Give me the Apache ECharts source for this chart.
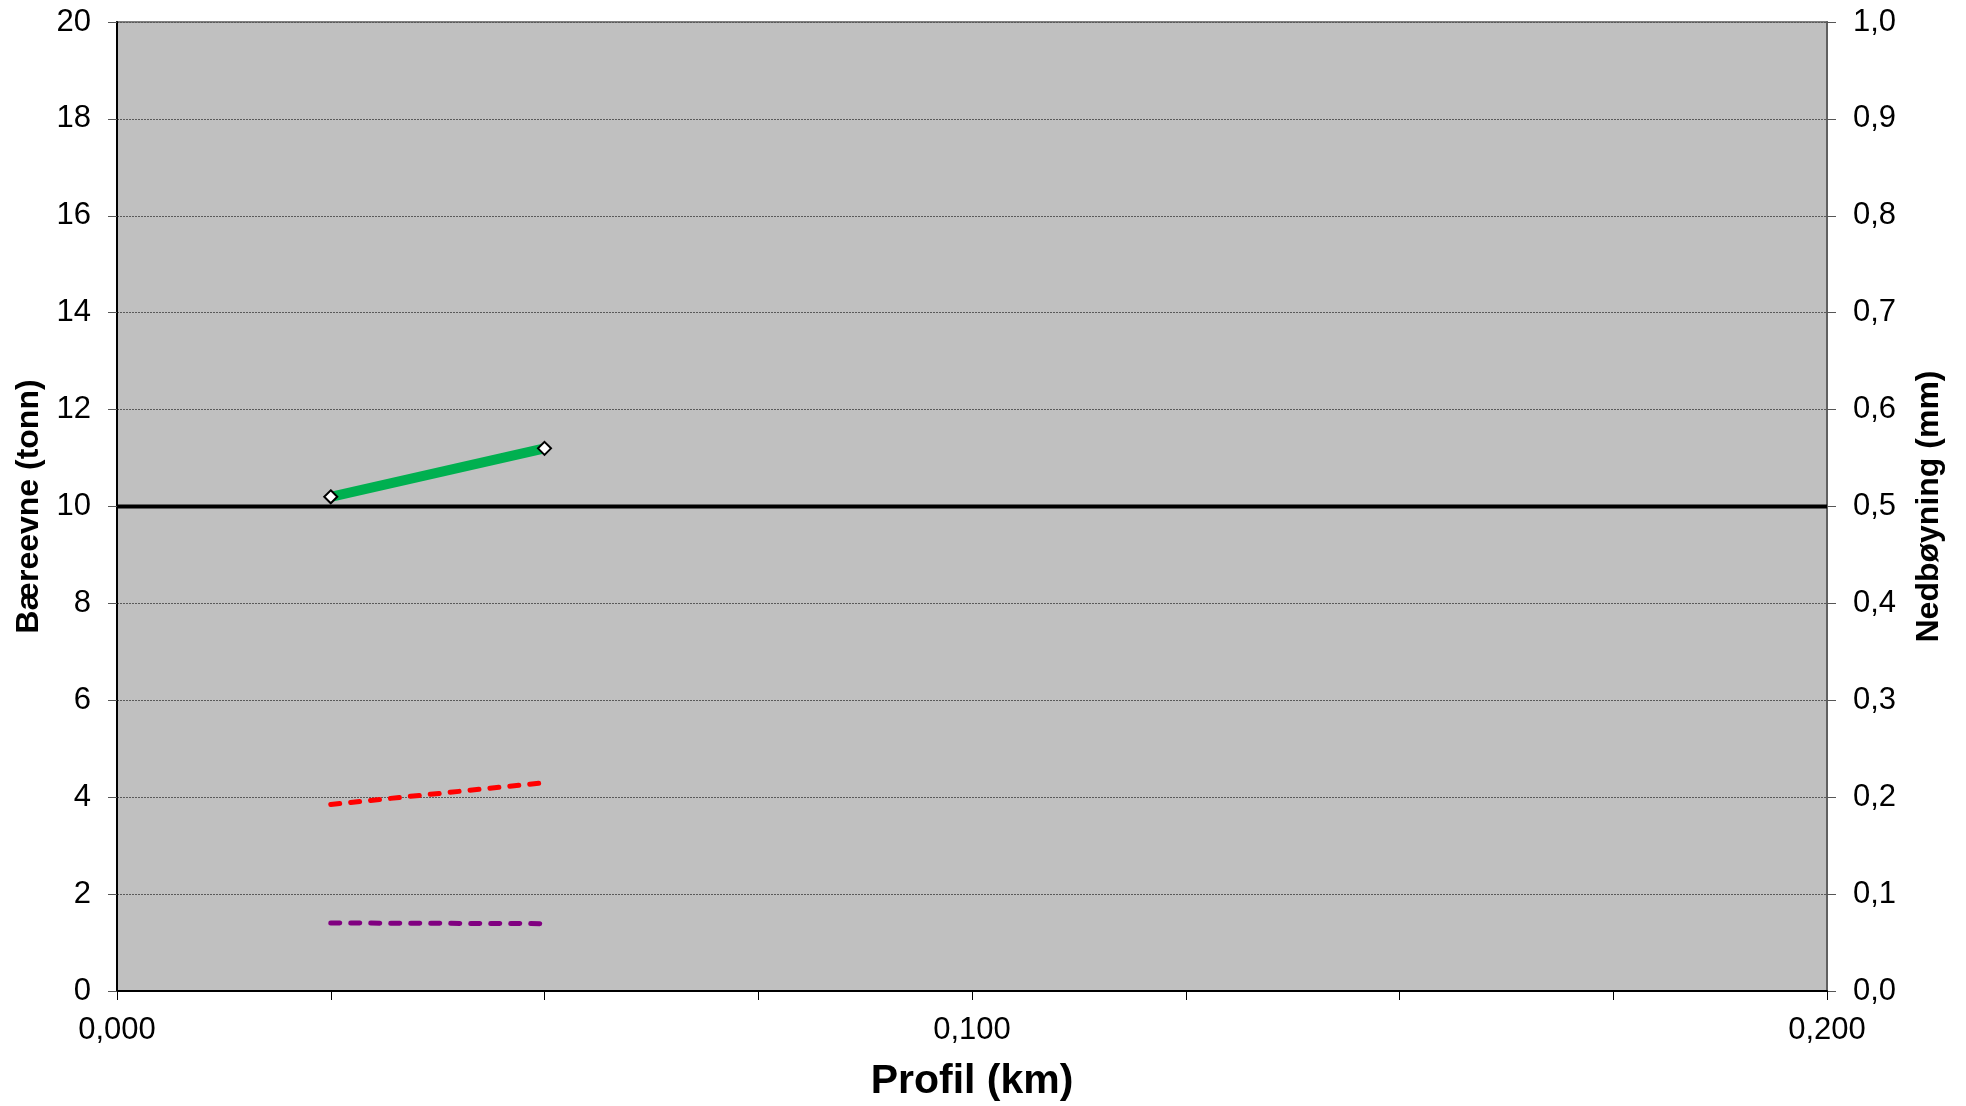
<!DOCTYPE html>
<html>
<head>
<meta charset="utf-8">
<script src="https://cdn.jsdelivr.net/npm/echarts@6/dist/echarts.min.js"></script>
<style>
html,body{margin:0;padding:0;background:#fff;}
#chart{width:1966px;height:1106px;}
</style>
</head>
<body>
<div id="chart"></div>
<script>
// Data
const profilKm = [0.025, 0.05];
const baereevneTonn = [10.2, 11.2];          // green, left axis
const nedboyningRed = [0.1925, 0.215];       // red dashed, right axis (mm)
const nedboyningPurple = [0.0702, 0.0695];   // purple dashed, right axis (mm)
const limitKm = [0, 0.2];
const limitTonn = [10, 10];                   // black reference line

const leftTicks = {min: 0, max: 20, interval: 2};
const rightTicks = {min: 0, max: 1, interval: 0.1};
const xTicks = {min: 0, max: 0.2, interval: 0.025, labelStep: 0.1};

const zip = (xs, ys) => xs.map((x, i) => [x, ys[i]]);

const FONT = '"Liberation Sans", Arial, sans-serif';
const chart = echarts.init(document.getElementById('chart'));

chart.setOption({
  animation: false,
  backgroundColor: '#ffffff',
  grid: {
    left: 117, right: 139, top: 22, bottom: 115,
    containLabel: false, outerBoundsMode: 'none',
    show: true, backgroundColor: '#C0C0C0', borderColor: '#808080', borderWidth: 2
  },
  xAxis: {
    type: 'value',
    min: xTicks.min, max: xTicks.max, interval: xTicks.interval,
    name: 'Profil (km)', nameLocation: 'middle', nameGap: 70,
    nameTextStyle: {fontFamily: FONT, fontSize: 41, fontWeight: 'bold', color: '#000'},
    axisLine: {show: true, onZero: false, lineStyle: {color: '#000', width: 2}},
    axisTick: {show: true, length: 9, lineStyle: {color: '#000', width: 1}},
    splitLine: {show: false},
    axisLabel: {
      fontFamily: FONT, fontSize: 31, color: '#000', margin: 24,
      showMaxLabel: true, showMinLabel: true,
      formatter: v => {
        const r = v / xTicks.labelStep;
        return Math.abs(r - Math.round(r)) < 1e-6 ? v.toFixed(3).replace('.', ',') : '';
      }
    }
  },
  yAxis: [
    {
      type: 'value', position: 'left',
      min: leftTicks.min, max: leftTicks.max, interval: leftTicks.interval,
      name: 'Bæreevne (tonn)', nameLocation: 'middle', nameGap: 69, nameRotate: 90,
      nameTextStyle: {fontFamily: FONT, fontSize: 32, fontWeight: 'bold', color: '#000'},
      axisLine: {show: true, lineStyle: {color: '#000', width: 2}},
      axisTick: {show: true, length: 9, lineStyle: {color: '#555', width: 1}},
      axisLabel: {fontFamily: FONT, fontSize: 31, color: '#000', margin: 26},
      splitLine: {show: true, lineStyle: {color: '#5a5a5a', width: 1, type: [2, 1]}}
    },
    {
      type: 'value', position: 'right',
      min: rightTicks.min, max: rightTicks.max, interval: rightTicks.interval,
      name: 'Nedbøyning (mm)', nameLocation: 'middle', nameGap: 86, nameRotate: 90,
      nameTextStyle: {fontFamily: FONT, fontSize: 32, fontWeight: 'bold', color: '#000'},
      axisLine: {show: true, lineStyle: {color: '#606060', width: 2}},
      axisTick: {show: true, length: 9, lineStyle: {color: '#555', width: 1}},
      axisLabel: {fontFamily: FONT, fontSize: 31, color: '#000', margin: 26,
        formatter: v => v.toFixed(1).replace('.', ',')},
      splitLine: {show: false}
    }
  ],
  series: [
    {
      type: 'line', yAxisIndex: 0, data: zip(limitKm, limitTonn),
      symbol: 'none', lineStyle: {color: '#000', width: 4}, z: 3
    },
    {
      type: 'line', yAxisIndex: 1, data: zip(profilKm, nedboyningRed),
      symbol: 'none', lineStyle: {color: '#FF0000', width: 5, type: [9, 11], cap: 'round'}, z: 4
    },
    {
      type: 'line', yAxisIndex: 1, data: zip(profilKm, nedboyningPurple),
      symbol: 'none', lineStyle: {color: '#800080', width: 5, type: [9, 11], cap: 'round'}, z: 4
    },
    {
      type: 'line', yAxisIndex: 0, data: zip(profilKm, baereevneTonn),
      symbol: 'diamond', symbolSize: 13, showSymbol: true,
      itemStyle: {color: '#ffffff', borderColor: '#000', borderWidth: 2},
      lineStyle: {color: '#00B050', width: 10}, z: 5
    }
  ]
});
</script>
</body>
</html>
